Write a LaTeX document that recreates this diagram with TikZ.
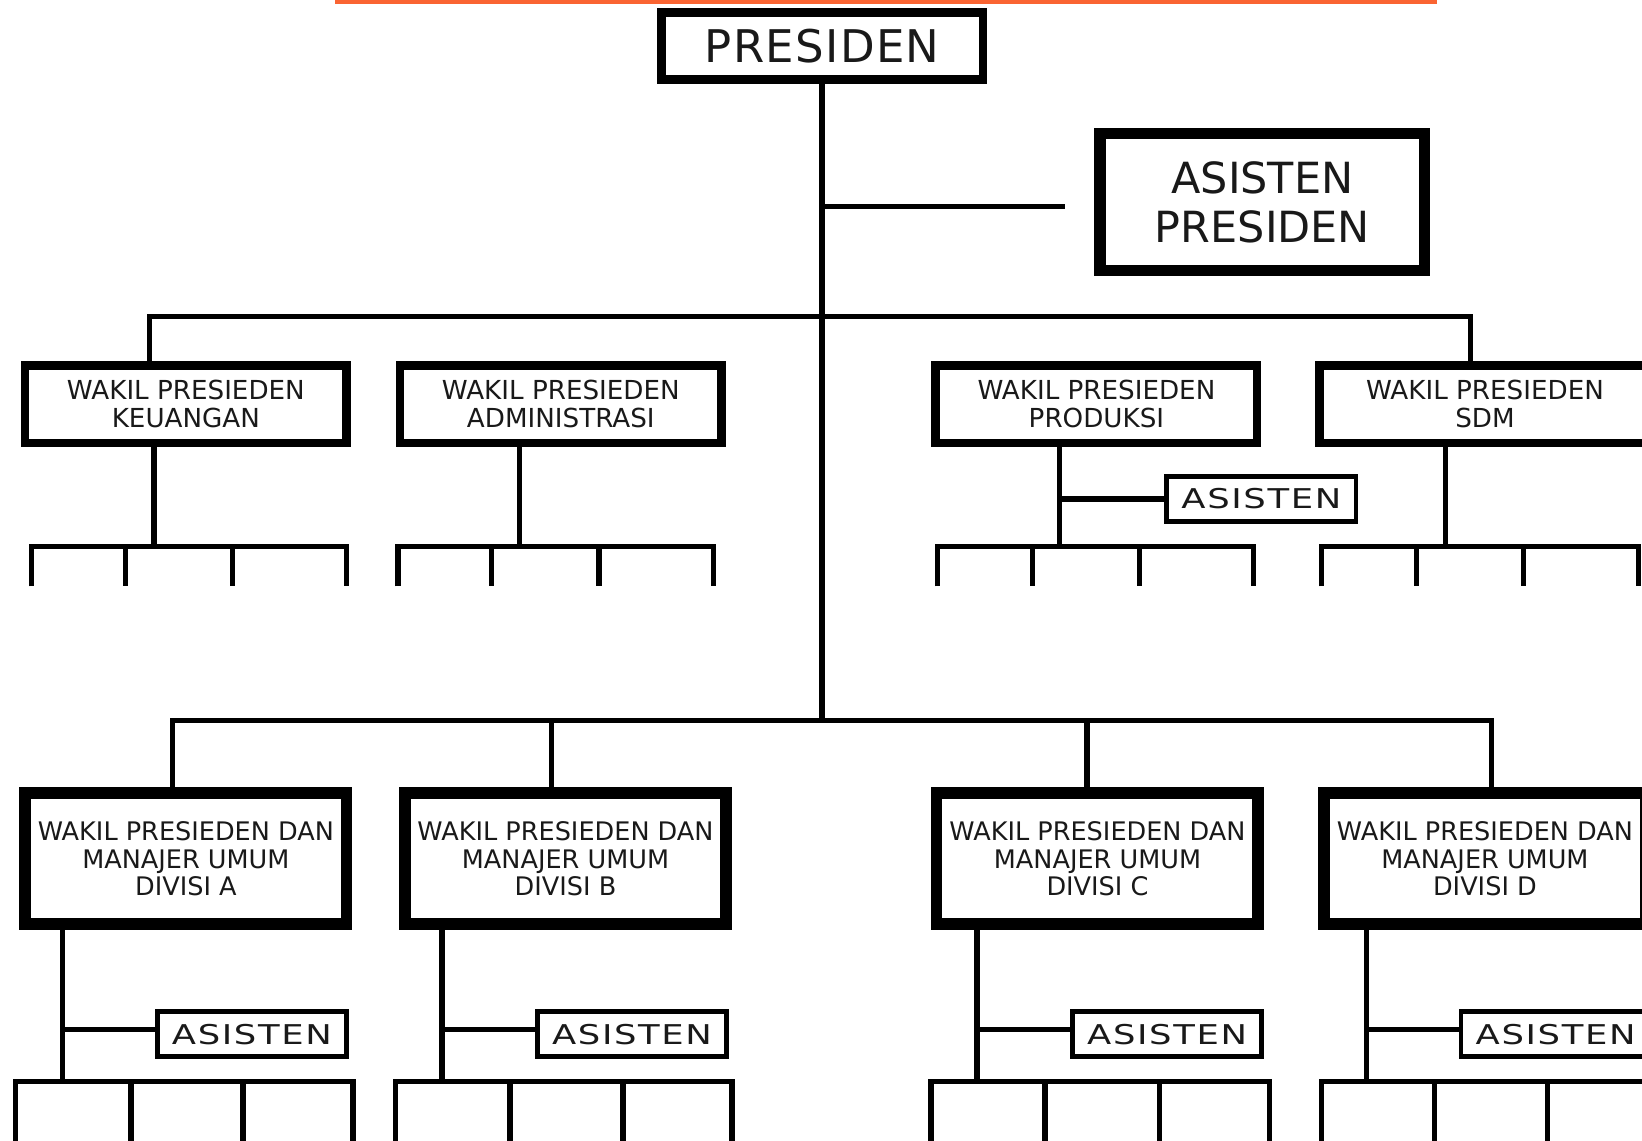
\documentclass[tikz,border=0pt]{standalone}
\usepackage{fontspec}
\setmainfont{DejaVu Sans}
\newfontfamily\widefont[FakeStretch=1.3,LetterSpace=6]{DejaVu Sans}
\newfontfamily\presfont[LetterSpace=3]{DejaVu Sans}
\definecolor{topline}{RGB}{250,100,50}
\newcommand\tickbar[6]{%
  \draw[ln] (#3,#2) -- (#3,#1) -- (#6,#1) -- (#6,#2);
  \draw[ln] (#4,#1) -- (#4,#2);
  \draw[ln] (#5,#1) -- (#5,#2);
}
\begin{document}
\begin{tikzpicture}[x=1pt,y=-1pt,
  ln/.style={line width=5pt},
  box/.style={draw,rectangle,inner sep=0pt,align=center,text=black!90},
  presbox/.style={box,line width=8pt,minimum width=307pt,minimum height=64pt,font=\presfont\fontsize{43}{46}\selectfont},
  apbox/.style={box,line width=11pt,minimum width=310pt,minimum height=131pt,font=\fontsize{41}{47}\selectfont},
  vpbox/.style={box,line width=8pt,minimum width=307pt,minimum height=74pt,font=\fontsize{25}{27}\selectfont},
  dvbox/.style={box,line width=11pt,minimum width=307pt,minimum height=125pt,font=\fontsize{24.4}{26}\selectfont},
  asbox/.style={box,line width=4.5pt,minimum width=180.5pt,minimum height=43pt,font=\widefont\fontsize{26}{28}\selectfont},
]
\useasboundingbox (0,0) rectangle (1568,1089);
\clip (0,0) rectangle (1568,1089);
\fill[topline] (320,0) rectangle (1372,3.5);

% top level
\node[presbox] (pres) at (785,44) {PRESIDEN};
\node[apbox] (apres) at (1205.5,193) {ASISTEN\\PRESIDEN};
\coordinate (apend) at (1017,197);
\coordinate (b1) at (785,302);
\coordinate (b2) at (785,688);
\draw[ln] (pres.south) -- (b2);
\draw[ln] (pres.south |- apend) -- (apend);

% first row
\node[vpbox] (keu) at (177.5,386) {WAKIL PRESIEDEN\\KEUANGAN};
\node[vpbox] (adm) at (535.5,386) {WAKIL PRESIEDEN\\ADMINISTRASI};
\node[vpbox] (pro) at (1047,386) {WAKIL PRESIEDEN\\PRODUKSI};
\node[vpbox,minimum width=316pt] (sdm) at (1418,386) {WAKIL PRESIEDEN\\SDM};
\coordinate (kd) at (143,302);
\coordinate (sd) at (1404,302);
\draw[ln] (kd |- keu.north) -- (kd) -- (sd) -- (sd |- sdm.north);

\coordinate (kj) at (147,522);
\coordinate (aj) at (496,522);
\coordinate (pj) at (1012,522);
\coordinate (sj) at (1380,522);
\draw[ln] (keu.south -| kj) -- (kj);
\draw[ln] (adm.south -| aj) -- (aj);
\draw[ln] (pro.south -| pj) -- (pj);
\draw[ln] (sdm.south -| sj) -- (sj);
\tickbar{522}{560}{30}{120}{222}{331}
\tickbar{522}{560}{380}{469}{572}{681}
\tickbar{522}{560}{895}{986}{1088}{1197}
\tickbar{522}{560}{1262}{1353}{1455}{1565}

\node[asbox] (pas) at (1204.5,476.5) {ASISTEN};
\draw[ln] (pj |- pas.west) -- (pas.west);

% second row
\node[dvbox] (da) at (177.5,820) {WAKIL PRESIEDEN DAN\\MANAJER UMUM\\DIVISI A};
\node[dvbox] (db) at (540,820) {WAKIL PRESIEDEN DAN\\MANAJER UMUM\\DIVISI B};
\node[dvbox] (dc) at (1048,820) {WAKIL PRESIEDEN DAN\\MANAJER UMUM\\DIVISI C};
\node[dvbox] (dd) at (1418,820) {WAKIL PRESIEDEN DAN\\MANAJER UMUM\\DIVISI D};
\coordinate (ad) at (165,688);
\coordinate (bd) at (527,688);
\coordinate (cd) at (1038,688);
\coordinate (dd2) at (1424,688);
\draw[ln] (ad |- da.north) -- (ad) -- (dd2) -- (dd2 |- dd.north);
\draw[ln] (bd) -- (bd |- db.north);
\draw[ln] (cd) -- (cd |- dc.north);

\coordinate (aj2) at (60,1033);
\coordinate (bj2) at (422,1033);
\coordinate (cj2) at (933,1033);
\coordinate (dj2) at (1305,1033);
\draw[ln] (da.south -| aj2) -- (aj2);
\draw[ln] (db.south -| bj2) -- (bj2);
\draw[ln] (dc.south -| cj2) -- (cj2);
\draw[ln] (dd.south -| dj2) -- (dj2);

\node[asbox] (asa) at (240.5,987.5) {ASISTEN};
\node[asbox] (asb) at (603.5,987.5) {ASISTEN};
\node[asbox] (asc) at (1114.5,987.5) {ASISTEN};
\node[asbox] (asd) at (1485.5,987.5) {ASISTEN};
\draw[ln] (aj2 |- 0,983) -- (asa.west |- 0,983);
\draw[ln] (bj2 |- 0,983) -- (asb.west |- 0,983);
\draw[ln] (cj2 |- 0,983) -- (asc.west |- 0,983);
\draw[ln] (dj2 |- 0,983) -- (asd.west |- 0,983);

\tickbar{1033}{1095}{15}{125}{232}{337}
\tickbar{1033}{1095}{378}{487}{595}{699}
\tickbar{1033}{1095}{889}{998}{1107}{1212}
\tickbar{1033}{1095}{1262}{1370}{1478}{1590}
\end{tikzpicture}
\end{document}
